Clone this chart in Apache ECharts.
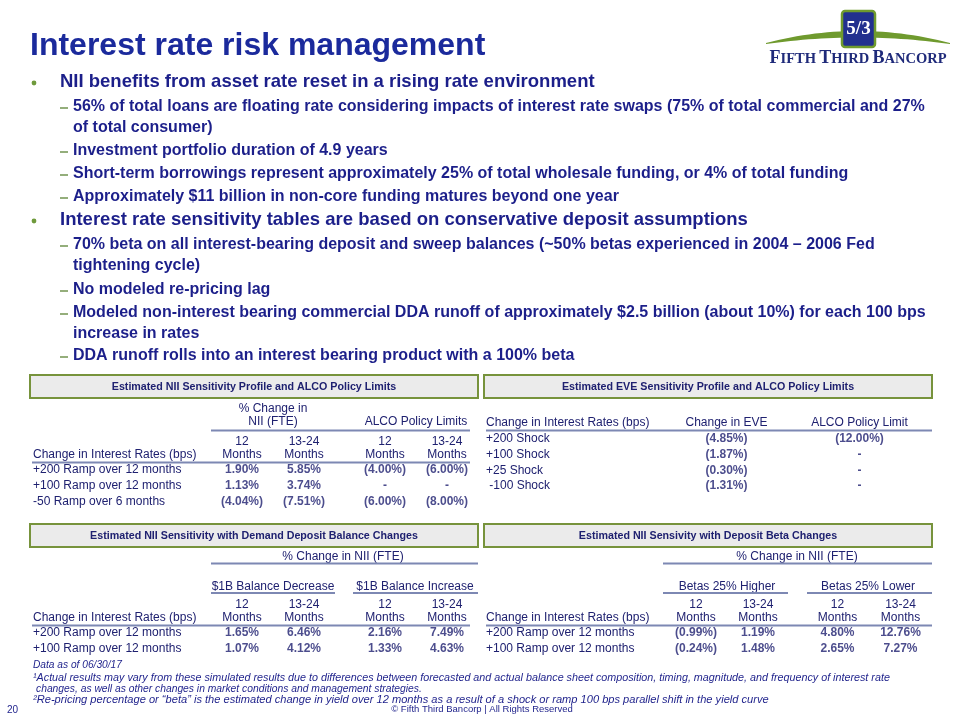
<!DOCTYPE html>
<html><head><meta charset="utf-8">
<script src="https://cdn.jsdelivr.net/npm/echarts@6/dist/echarts.min.js"></script>
<style>html,body{margin:0;padding:0;background:#fff}#c{width:960px;height:720px}</style>
</head><body><div id="c"></div>
<script>
// ---------------- DATA ----------------
const titleText = 'Interest rate risk management';
const bulletLevels = [1, 2, 0, 2, 2, 2, 1, 2, 0, 2, 2, 0, 2];
const bulletTexts = [
  'NII benefits from asset rate reset in a rising rate environment',
  '56% of total loans are floating rate considering impacts of interest rate swaps (75% of total commercial and 27%',
  'of total consumer)',
  'Investment portfolio duration of 4.9 years',
  'Short-term borrowings represent approximately 25% of total wholesale funding, or 4% of total funding',
  'Approximately $11 billion in non-core funding matures beyond one year',
  'Interest rate sensitivity tables are based on conservative deposit assumptions',
  '70% beta on all interest-bearing deposit and sweep balances (~50% betas experienced in 2004 \u2013 2006 Fed',
  'tightening cycle)',
  'No modeled re-pricing lag',
  'Modeled non-interest bearing commercial DDA runoff of approximately $2.5 billion (about 10%) for each 100 bps',
  'increase in rates',
  'DDA runoff rolls into an interest bearing product with a 100% beta'
];

const boxTitles = [
  'Estimated NII Sensitivity Profile and ALCO Policy Limits',
  'Estimated EVE Sensitivity Profile and ALCO Policy Limits',
  'Estimated NII Sensitivity with Demand Deposit Balance Changes',
  'Estimated NII Sensivity with Deposit Beta Changes'
];
const rateHeader = 'Change in Interest Rates (bps)';
const periods = ['12\nMonths', '13-24\nMonths'];

// Table 1: NII sensitivity profile
const niiRates = ['+200 Ramp over 12 months', '+100 Ramp over 12 months', '-50 Ramp over 6 months'];
const niiChange12 = [1.90, 1.13, -4.04];
const niiChange1324 = [5.85, 3.74, -7.51];
const alcoLimit12 = [-4.00, null, -6.00];
const alcoLimit1324 = [-6.00, null, -8.00];

// Table 2: EVE sensitivity
const eveColumns = ['Change in EVE', 'ALCO Policy Limit'];
const eveRates = ['+200 Shock', '+100 Shock', '+25 Shock', ' -100 Shock'];
const eveChange = [-4.85, -1.87, -0.30, -1.31];
const eveLimit = [-12.00, null, null, null];

// Table 3: DDA balance changes
const ddaRates = ['+200 Ramp over 12 months', '+100 Ramp over 12 months'];
const ddaDecrease12 = [1.65, 1.07];
const ddaDecrease1324 = [6.46, 4.12];
const ddaIncrease12 = [2.16, 1.33];
const ddaIncrease1324 = [7.49, 4.63];

// Table 4: deposit beta changes
const betaRates = ['+200 Ramp over 12 months', '+100 Ramp over 12 months'];
const betaHigher12 = [-0.99, -0.24];
const betaHigher1324 = [1.19, 1.48];
const betaLower12 = [4.80, 2.65];
const betaLower1324 = [12.76, 7.27];

const footnotes = [
  'Data as of 06/30/17',
  '\u00b9Actual results may vary from these simulated results due to differences between forecasted and actual balance sheet composition, timing, magnitude, and frequency of interest rate',
  'changes, as well as other changes in market conditions and management strategies.',
  '\u00b2Re-pricing percentage or \u201cbeta\u201d is the estimated change in yield over 12 months as a result of a shock or ramp 100 bps parallel shift in the yield curve'
];
const pageNumber = '20';
const copyright = '\u00a9 Fifth Third Bancorp | All Rights Reserved';

// ---------------- STYLE ----------------
const SANS = '"Liberation Sans", Arial, Helvetica, sans-serif';
const SERIF = '"Liberation Serif", "DejaVu Serif", serif';
const C_TITLE = '#1b2a9c';
const C_TEXT = '#1c1f8a';
const C_TABLE = '#1f2170';
const C_GREEN = '#6f9a3c';
const C_RULE = '#7d88b3';

const graphics = [];
function T(x, y, text, o) {
  o = o || {};
  graphics.push({
    type: 'text', x: x, y: y, silent: true,
    style: {
      text: text, fill: o.fill || C_TABLE,
      fontFamily: o.family || SANS, fontSize: o.size || 12,
      fontWeight: o.weight || 'normal', fontStyle: o.style || 'normal',
      align: o.align || 'left', verticalAlign: 'middle', rich: o.rich
    }
  });
}
function L(x1, x2, y, w, c) {
  graphics.push({ type: 'line', silent: true, shape: { x1: x1, y1: y, x2: x2, y2: y },
    style: { stroke: c || C_RULE, lineWidth: w || 2 } });
}
function Box(x, y, w, h, title) {
  graphics.push({ type: 'rect', silent: true, shape: { x: x, y: y, width: w, height: h },
    style: { fill: '#ebebeb', stroke: '#77933c', lineWidth: 2 } });
  T(x + w / 2, y + h / 2 + 0.5, title, { align: 'center', weight: 'bold', size: 10.7 });
}

// Title
T(30, 46, titleText, { fill: C_TITLE, weight: 'bold', size: 32 });

// Bullets
const bulletY = [82, 107, 128, 151, 174, 197, 220, 245, 266, 290, 313, 334, 356];
bulletTexts.forEach(function (t, i) {
  const lvl = bulletLevels[i];
  const y = bulletY[i];
  if (lvl === 1) {
    graphics.push({ type: 'circle', silent: true, shape: { cx: 34, cy: y + 1, r: 2.4 }, style: { fill: C_GREEN } });
    T(60, y, t, { fill: C_TEXT, weight: 'bold', size: 18.5 });
  } else {
    if (lvl === 2) L(60, 68, y + 1, 1.6, '#7a9a5a');
    T(73, y, t, { fill: C_TEXT, weight: 'bold', size: 16 });
  }
});

// Logo
(function () {
  const pts = [];
  const N = 30;
  for (let i = 0; i <= N; i++) {
    const t = i / N;
    pts.push([(1 - t) * (1 - t) * 766 + 2 * t * (1 - t) * 858 + t * t * 950,
              (1 - t) * (1 - t) * 43 + 2 * t * (1 - t) * 19 + t * t * 43]);
  }
  for (let i = N; i >= 0; i--) {
    const t = i / N;
    pts.push([(1 - t) * (1 - t) * 766 + 2 * t * (1 - t) * 858 + t * t * 950,
              (1 - t) * (1 - t) * 44 + 2 * t * (1 - t) * 31 + t * t * 44]);
  }
  graphics.push({ type: 'polygon', silent: true, shape: { points: pts }, style: { fill: '#6f9a2e' } });
  graphics.push({ type: 'rect', silent: true, shape: { x: 842, y: 11, width: 33, height: 36, r: 3 },
    style: { fill: '#22308f', stroke: '#6f9a2e', lineWidth: 2.5 } });
  T(858.5, 29, '5/3', { fill: '#ffffff', family: SERIF, weight: 'bold', size: 19, align: 'center' });
  T(858, 58, '{b|F}{s|IFTH} {b|T}{s|HIRD} {b|B}{s|ANCORP}', {
    fill: '#1f2a7a', align: 'center',
    rich: {
      b: { fontFamily: SERIF, fontWeight: 'bold', fontSize: 18, fill: '#1f2a7a', verticalAlign: 'bottom' },
      s: { fontFamily: SERIF, fontWeight: 'bold', fontSize: 14.5, fill: '#1f2a7a', verticalAlign: 'bottom' }
    }
  });
})();

// Boxes
Box(30, 375, 448, 23, boxTitles[0]);
Box(484, 375, 448, 23, boxTitles[1]);
Box(30, 524, 448, 23, boxTitles[2]);
Box(484, 524, 448, 23, boxTitles[3]);

// Table 1 headers
T(273, 409, '% Change in', { align: 'center' });
T(273, 422, 'NII (FTE)', { align: 'center' });
T(416, 422, 'ALCO Policy Limits', { align: 'center' });
L(211, 470, 430.5);
T(33, 455, rateHeader);
L(32, 470, 462.5);

// Table 2 headers
T(486, 423, rateHeader);
L(486, 932, 430.5);

// Table 3 headers
T(343, 557, '% Change in NII (FTE)', { align: 'center' });
L(211, 478, 563.5);
T(273, 587, '$1B Balance Decrease', { align: 'center' });
T(415, 587, '$1B Balance Increase', { align: 'center' });
L(211, 335, 593);
L(353, 478, 593);
T(33, 618, rateHeader);
L(32, 470, 625.5);

// Table 4 headers
T(797, 557, '% Change in NII (FTE)', { align: 'center' });
L(663, 932, 563.5);
T(727, 587, 'Betas 25% Higher', { align: 'center' });
T(868, 587, 'Betas 25% Lower', { align: 'center' });
L(663, 788, 593);
L(807, 932, 593);
T(486, 618, rateHeader);
L(486, 932, 625.5);

// Footnotes
T(33, 665, footnotes[0], { fill: C_TEXT, style: 'italic', size: 10.2 });
T(33, 678, footnotes[1], { fill: C_TEXT, style: 'italic', size: 10.75 });
T(36, 689, footnotes[2], { fill: C_TEXT, style: 'italic', size: 10.3 });
T(33, 700, footnotes[3], { fill: C_TEXT, style: 'italic', size: 11.1 });
T(7, 710, pageNumber, { fill: C_TEXT, size: 10 });
T(482, 709, copyright, { fill: C_TEXT, size: 9.5, align: 'center' });

// ---------------- TABLE GRIDS ----------------
function fmt(v) {
  if (v === null || v === undefined) return '-';
  return v < 0 ? '(' + Math.abs(v).toFixed(2) + '%)' : v.toFixed(2) + '%';
}
const grids = [], xAxes = [], yAxes = [], series = [];
function addTable(left, width, top, height, cols, rows, colArrays, labelX, colLabelMargin) {
  const gi = grids.length;
  grids.push({ left: left, top: top, width: width, height: height, containLabel: false, outerBoundsMode: 'none' });
  xAxes.push({
    type: 'category', gridIndex: gi, data: cols, position: 'top',
    axisLine: { show: false }, axisTick: { show: false }, splitLine: { show: false },
    axisLabel: { show: colLabelMargin !== null, interval: 0, margin: colLabelMargin || 0, color: C_TABLE,
      fontFamily: SANS, fontSize: 12, lineHeight: 13 }
  });
  yAxes.push({
    type: 'category', gridIndex: gi, data: rows, inverse: true,
    axisLine: { show: false }, axisTick: { show: false }, splitLine: { show: false },
    axisLabel: { show: labelX !== null, interval: 0, align: 'left', margin: labelX === null ? 0 : left - labelX,
      color: C_TABLE, fontFamily: SANS, fontSize: 12 }
  });
  const data = [];
  colArrays.forEach(function (arr, ci) {
    arr.forEach(function (v, ri) { data.push({ value: [ci, ri], v: v }); });
  });
  series.push({
    type: 'scatter', xAxisIndex: gi, yAxisIndex: gi, data: data,
    symbol: 'rect', symbolSize: 1, itemStyle: { color: 'rgba(0,0,0,0)' }, silent: true,
    label: { show: true, position: 'inside', color: C_TABLE, fontFamily: SANS, fontSize: 12, fontWeight: 'bold',
      formatter: function (p) { return fmt(p.data.v); } },
    emphasis: { disabled: true }, animation: false
  });
}
addTable(211, 124, 462, 48, periods, niiRates, [niiChange12, niiChange1324], 33, 0.5);
addTable(354, 124, 462, 48, periods, niiRates, [alcoLimit12, alcoLimit1324], null, 0.5);
addTable(660, 266, 431, 63, eveColumns, eveRates, [eveChange, eveLimit], 486, 1.5);
addTable(211, 124, 625, 32, periods, ddaRates, [ddaDecrease12, ddaDecrease1324], 33, 0.5);
addTable(354, 124, 625, 32, periods, ddaRates, [ddaIncrease12, ddaIncrease1324], null, 0.5);
addTable(665, 124, 625, 32, periods, betaRates, [betaHigher12, betaHigher1324], 486, 0.5);
addTable(806, 126, 625, 32, periods, betaRates, [betaLower12, betaLower1324], null, 0.5);

const chart = echarts.init(document.getElementById('c'), null, { renderer: 'canvas' });
chart.setOption({
  backgroundColor: '#ffffff',
  animation: false,
  grid: grids, xAxis: xAxes, yAxis: yAxes, series: series,
  graphic: { elements: graphics }
});
</script></body></html>
